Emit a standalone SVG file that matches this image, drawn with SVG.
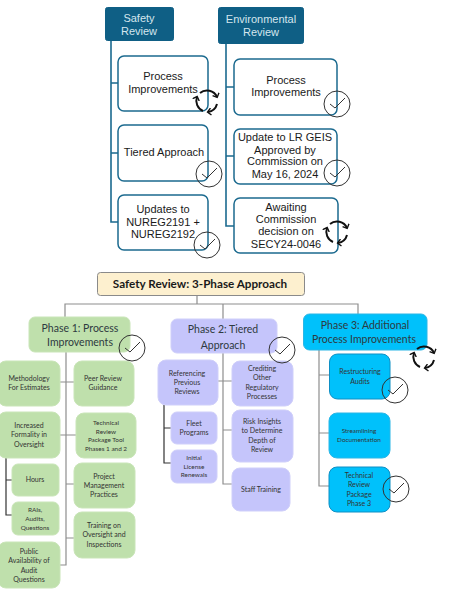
<svg xmlns="http://www.w3.org/2000/svg" width="465" height="610" viewBox="0 0 465 610">
<style>
text{text-anchor:middle}
.a{font:11px "Liberation Sans",Arial,sans-serif;fill:#1a1a1a}
.h{font:11px "Liberation Sans",Arial,sans-serif;fill:#d5e6ee}
.b{font:7px Lato,"Open Sans",sans-serif;fill:#333}
.s{font:6.4px Lato,"Open Sans",sans-serif;fill:#333}
.p{font:10.5px Lato,"Open Sans",sans-serif;fill:#2e3a40}
.t{font:bold 11.700px Lato,"Open Sans",sans-serif;fill:#1a1a1a}
.hd{fill:#0f5f85;stroke:#0f5f85}
.w{fill:#fff;stroke:#1b6a8f;stroke-width:1.5}
.g{fill:#bfe0ac;stroke:#c9e5b8}
.v{fill:#c5c5fb;stroke:#cfcffa}
.c{fill:#00c1fb;stroke:#2bb6e6}
.cd{fill:#00c1fb;stroke:#0e8fc4}
.top{fill:none;stroke:#1b6a8f;stroke-width:1.6}
.gr{fill:none;stroke:#8e8e8e;stroke-width:1.2}
.bk{fill:none;stroke:#333;stroke-width:1.2}
.ck{fill:none;stroke:#333;stroke-width:1}
.cy{fill:none;stroke:#111;stroke-width:2;marker-end:url(#ah)}
</style>
<defs>
<marker id="ah" markerWidth="7" markerHeight="8" refX="3.500" refY="4" orient="auto" markerUnits="userSpaceOnUse"><path d="M0.5 0.5L4 4L0.5 7.500" fill="none" stroke="#111" stroke-width="1.4"/></marker>
<g id="check"><circle r="13" class="ck"/><path class="ck" d="M-7 0L-2 4L8-6"/></g>
<g id="cycle"><path class="cy" d="M-7-8A11 11 0 0 1 10-4"/><path class="cy" d="M10 3A11 11 0 0 1 1 11"/><path class="cy" d="M-4 10A11 11 0 0 1-10-4"/></g>
</defs>
<g id="connectors">
<path class="top" d="M111 41V222H118M111 83H118M111 153H118M226 44V226H234M226 87H234M226 156H234"/>
<path class="gr" d="M197 296V304M65 318V304H358V314M223 304V319M66 352V565H60M58 382H74M60 435H76M66 484H74M66 538H74M223 353V484H232M217 381H232M223 430H232M319 350V486H329M319 375H329M319 433H329"/>
<path class="bk" d="M6 458V515H12M6 480H12M164 405V463H171M164 428H171"/>
</g>
<g id="safety-review"><rect class="hd" x="105.500" y="7.500" width="68" height="33" rx="2"/><text class="h" x="139" y="22">Safety</text><text class="h" x="139" y="35">Review</text></g>
<g id="environmental-review"><rect class="hd" x="218.500" y="7.500" width="85" height="36" rx="2"/><text class="h" x="261" y="23">Environmental</text><text class="h" x="261" y="36">Review</text></g>
<g id="s-process"><rect class="w" x="118" y="56" width="90" height="55" rx="6"/><text class="a" x="163" y="80">Process</text><text class="a" x="163" y="93">Improvements</text></g>
<g id="s-tiered"><rect class="w" x="118" y="125" width="90" height="56" rx="6"/><text class="a" x="164" y="156">Tiered Approach</text></g>
<g id="s-updates"><rect class="w" x="118" y="195" width="90" height="55" rx="6"/><text class="a" x="163" y="213">Updates to</text><text class="a" x="163" y="226">NUREG2191 +</text><text class="a" x="163" y="238">NUREG2192</text></g>
<g id="e-process"><rect class="w" x="234" y="59" width="103" height="56" rx="6"/><text class="a" x="286" y="84">Process</text><text class="a" x="286" y="96">Improvements</text></g>
<g id="e-update"><rect class="w" x="234" y="129" width="103" height="55" rx="6"/><text class="a" x="285" y="141">Update to LR GEIS</text><text class="a" x="285" y="154">Approved by</text><text class="a" x="285" y="165">Commission on</text><text class="a" x="285" y="178">May 16, 2024</text></g>
<g id="e-awaiting"><rect class="w" x="234" y="198" width="104" height="55" rx="6"/><text class="a" x="286" y="211">Awaiting</text><text class="a" x="286" y="223">Commission</text><text class="a" x="286" y="235">decision on</text><text class="a" x="286" y="248">SECY24-0046</text></g>
<g id="title"><rect x="97.500" y="272.500" width="207" height="23" rx="3" fill="#fdf0cf" stroke="#8a8a8a"/><text class="t" x="200" y="288">Safety Review: 3-Phase Approach</text></g>
<g id="phase1"><rect class="g" x="29" y="317" width="101" height="35" rx="6"/><text class="p" x="80" y="332">Phase 1: Process</text><text class="p" x="80" y="346">Improvements</text></g>
<g id="phase2"><rect class="v" x="171" y="319" width="106" height="34" rx="6"/><text class="p" x="223" y="333">Phase 2: Tiered</text><text class="p" x="223" y="349">Approach</text></g>
<g id="phase3"><rect class="c" x="303.500" y="314" width="123.500" height="36" rx="6"/><text class="p" x="365" y="329">Phase 3: Additional</text><text class="p" x="364" y="343">Process Improvements</text></g>
<g id="p1-methodology"><rect class="g" x="-2" y="361" width="62" height="45" rx="8"/><text class="b" x="29" y="381">Methodology</text><text class="b" x="29" y="390">For Estimates</text></g>
<g id="p1-peer"><rect class="g" x="74" y="361" width="60" height="45" rx="8"/><text class="b" x="103" y="381">Peer Review</text><text class="b" x="103" y="390">Guidance</text></g>
<g id="p1-formality"><rect class="g" x="-2" y="412" width="62" height="46" rx="8"/><text class="b" x="29" y="428">Increased</text><text class="b" x="29" y="437">Formality in</text><text class="b" x="29" y="447">Oversight</text></g>
<g id="p1-technical"><rect class="g" x="76" y="413" width="60" height="45" rx="8"/><text class="s" x="106" y="425">Technical</text><text class="s" x="106" y="433.500">Review</text><text class="s" x="106" y="442">Package Tool</text><text class="s" x="106" y="450.500">Phases 1 and 2</text></g>
<g id="p1-project"><rect class="g" x="74" y="463" width="61" height="45" rx="8"/><text class="b" x="104" y="479">Project</text><text class="b" x="104" y="488">Management</text><text class="b" x="104" y="497">Practices</text></g>
<g id="p1-training"><rect class="g" x="74" y="512" width="61" height="46" rx="8"/><text class="b" x="104" y="528">Training on</text><text class="b" x="104" y="537">Oversight and</text><text class="b" x="104" y="547">Inspections</text></g>
<g id="p1-hours"><rect class="g" x="12" y="464" width="47" height="32" rx="6"/><text class="b" x="35" y="482">Hours</text></g>
<g id="p1-rais"><rect class="g" x="12" y="502" width="47" height="33" rx="6"/><text class="s" x="35" y="512">RAIs,</text><text class="s" x="35" y="521">Audits,</text><text class="s" x="35" y="530">Questions</text></g>
<g id="p1-public"><rect class="g" x="-2" y="542" width="62" height="46" rx="8"/><text class="b" x="29" y="554">Public</text><text class="b" x="29" y="563">Availability of</text><text class="b" x="29" y="573">Audit</text><text class="b" x="29" y="582">Questions</text></g>
<g id="p2-referencing"><rect class="v" x="158" y="360" width="60" height="45" rx="8"/><text class="b" x="187" y="376">Referencing</text><text class="b" x="187" y="385">Previous</text><text class="b" x="187" y="394">Reviews</text></g>
<g id="p2-crediting"><rect class="v" x="232" y="361" width="61" height="45" rx="8"/><text class="b" x="262" y="371">Crediting</text><text class="b" x="262" y="380">Other</text><text class="b" x="262" y="390">Regulatory</text><text class="b" x="262" y="399">Processes</text></g>
<g id="p2-risk"><rect class="v" x="232" y="410" width="61" height="52" rx="8"/><text class="b" x="262" y="424">Risk Insights</text><text class="b" x="262" y="433">to Determine</text><text class="b" x="262" y="443">Depth of</text><text class="b" x="262" y="452">Review</text></g>
<g id="p2-staff"><rect class="v" x="232" y="468" width="58" height="43" rx="8"/><text class="b" x="261" y="492">Staff Training</text></g>
<g id="p2-fleet"><rect class="v" x="171" y="412" width="46" height="32" rx="6"/><text class="b" x="194" y="426">Fleet</text><text class="b" x="194" y="435">Programs</text></g>
<g id="p2-initial"><rect class="v" x="171" y="450" width="46" height="33" rx="6"/><text class="s" x="194" y="460">Initial</text><text class="s" x="194" y="468.500">License</text><text class="s" x="194" y="477">Renewals</text></g>
<g id="p3-restructuring"><rect class="cd" x="329.500" y="354" width="60.500" height="45" rx="8"/><text class="b" x="360" y="374">Restructuring</text><text class="b" x="360" y="384">Audits</text></g>
<g id="p3-streamlining"><rect class="c" x="329" y="413" width="61" height="45" rx="8"/><text class="s" x="359" y="433">Streamlining</text><text class="s" x="359" y="442">Documentation</text></g>
<g id="p3-technical"><rect class="cd" x="329" y="467" width="61" height="45" rx="8"/><text class="b" x="359" y="478">Technical</text><text class="b" x="359" y="487">Review</text><text class="b" x="359" y="497">Package</text><text class="b" x="359" y="506">Phase 3</text></g>
<g id="status-icons">
<use href="#cycle" x="207" y="101"/>
<use href="#check" x="209" y="174"/>
<use href="#check" x="207" y="245"/>
<use href="#check" x="337" y="104"/>
<use href="#check" x="337" y="173"/>
<use href="#cycle" x="337" y="232"/>
<use href="#check" x="132" y="348"/>
<use href="#check" x="282" y="350"/>
<use href="#cycle" x="424" y="357"/>
<use href="#check" x="395" y="390"/>
<use href="#check" x="396" y="489"/>
</g>
</svg>
